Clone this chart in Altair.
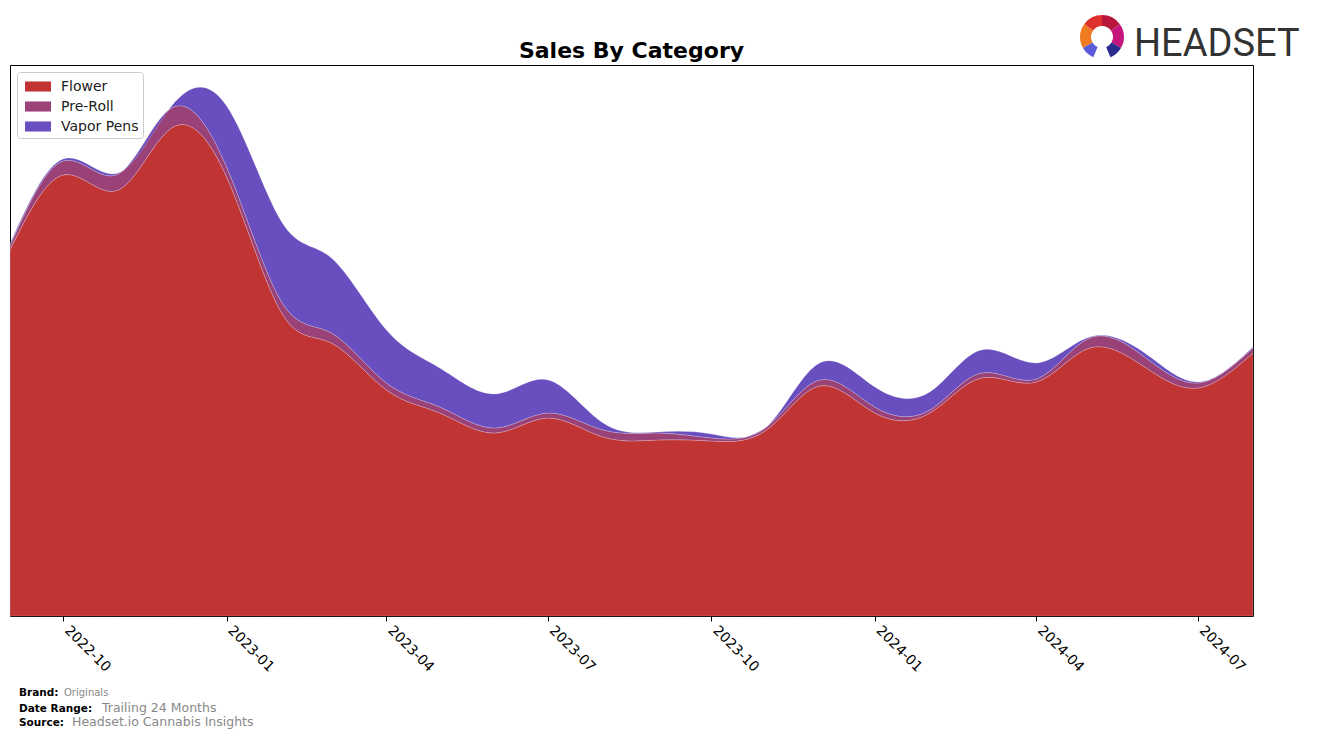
import altair as alt
import pandas as pd

# ---- data ----
months = ["2022-09-01", "2022-10-01", "2022-11-01", "2022-12-01", "2023-01-01", "2023-02-01",
          "2023-03-01", "2023-04-01", "2023-05-01", "2023-06-01", "2023-07-01", "2023-08-01",
          "2023-09-01", "2023-10-01", "2023-11-01", "2023-12-01", "2024-01-01", "2024-02-01",
          "2024-03-01", "2024-04-01", "2024-05-01", "2024-06-01", "2024-07-01", "2024-08-01"]
flower = [366, 441, 426, 488, 439, 303, 273, 226, 203, 183, 198, 179,
          176, 175, 186, 230, 203, 203, 238, 234, 268, 249, 228, 263]
preroll = [4, 14, 16, 20, 10, 11, 10, 7, 6, 5, 5, 7,
           7, 3, 3, 6, 6, 3, 5, 3, 10, 10, 5, 5]
vapor = [2, 2, 1, 2, 61, 80, 75, 53, 39, 34, 33, 7,
         1, 4, 0, 17, 20, 18, 23, 16, 1, 4, 1, 1]

categories = ["Flower", "Pre-Roll", "Vapor Pens"]
colors = ["#C13434", "#9A4177", "#684EBE"]
tick_labels = ["2022-10", "2023-01", "2023-04", "2023-07", "2023-10", "2024-01", "2024-04", "2024-07"]

series = {"Flower": flower, "Pre-Roll": preroll, "Vapor Pens": vapor}
rows = []
for ci, cat in enumerate(categories):
    for m, v in zip(months, series[cat]):
        rows.append({"date": m, "category": cat, "value": v, "order": ci})
df = pd.DataFrame(rows)


def dt(s):
    y, mo, d = [int(p) for p in s.split("-")]
    return alt.DateTime(year=y, month=mo, date=d, utc=True)


W, H = 1243, 551

area = alt.Chart(df).mark_area(
    interpolate="natural", stroke="white", strokeOpacity=0.25, strokeWidth=0.8, opacity=1
).encode(
    x=alt.X("date:T",
            scale=alt.Scale(type="utc", domain=[dt(months[0]), dt(months[-1])], nice=False),
            axis=alt.Axis(values=[dt(t + "-01") for t in tick_labels], format="%Y-%m",
                          labelAngle=45, labelAlign="left", labelBaseline="top",
                          labelFont="DejaVu Sans", labelFontSize=14, labelColor="black",
                          tickColor="black", tickSize=5, tickWidth=1, labelPadding=2,
                          labelOffset=8,
                          domain=False, grid=False, title=None, labelOverlap=False)),
    y=alt.Y("value:Q", stack="zero", scale=alt.Scale(domain=[0, H], nice=False), axis=None),
    color=alt.Color("category:N", scale=alt.Scale(domain=categories, range=colors),
                    legend=alt.Legend(title=None, orient="none", legendX=7, legendY=7,
                                      symbolType="M-0.62,-0.48H1.86V0.48H-0.62Z",
                                      symbolSize=441, symbolStrokeWidth=0, symbolOpacity=1,
                                      labelFont="DejaVu Sans", labelFontSize=14,
                                      labelColor="#222222", labelOffset=19,
                                      padding=4, rowPadding=2,
                                      fillColor="rgba(255,255,255,0.8)", strokeColor="#CCCCCC",
                                      cornerRadius=3)),
    order=alt.Order("order:Q"),
)

one = alt.Data(values=[{}])


def txt(text, x, y, size, color="black", weight="normal", align="left", font="DejaVu Sans"):
    return alt.Chart(one).mark_text(
        text=text, align=align, baseline="alphabetic", fontSize=size, font=font,
        fontWeight=weight, color=color
    ).encode(x=alt.value(x), y=alt.value(y))


title = txt("Sales By Category", W / 2, -7, 22, weight="bold", align="center")
footer = [
    txt("Brand:", 9, 631, 10.5, weight="bold"),
    txt("Originals", 54, 631, 10, color="#888888"),
    txt("Date Range:", 9, 647, 10.5, weight="bold"),
    txt("Trailing 24 Months", 92, 647, 12.5, color="#888888"),
    txt("Source:", 9, 661, 10.5, weight="bold"),
    txt("Headset.io Cannabis Insights", 62, 661, 12.5, color="#888888"),
]
logo_text = txt("HEADSET", 1124, -9, 38, color="#333333", font="Roboto")

logo_segments = [
    (0.0, 0.95, "#B8163A"),
    (0.95, 2.1, "#C4167C"),
    (2.1, 2.75, "#2B2A8E"),
    (3.55, 4.2, "#5A5BD8"),
    (4.2, 5.35, "#F07A22"),
    (5.35, 6.2832, "#E0302C"),
]
logo_arcs = [
    alt.Chart(one).mark_arc(theta=a, theta2=b, innerRadius=11, outerRadius=22, color=c)
    .encode(x=alt.value(1092), y=alt.value(-28))
    for a, b, c in logo_segments
]

chart = alt.layer(area, title, logo_text, *footer, *logo_arcs).properties(
    width=W, height=H,
    autosize=alt.AutoSizeParams(type="none"),
    padding={"left": 2, "top": 57, "right": 55, "bottom": 116},
    background="white",
).configure_view(stroke="black", strokeWidth=1)

chart.save("out.html", embed_options={"renderer": "svg", "actions": False})
